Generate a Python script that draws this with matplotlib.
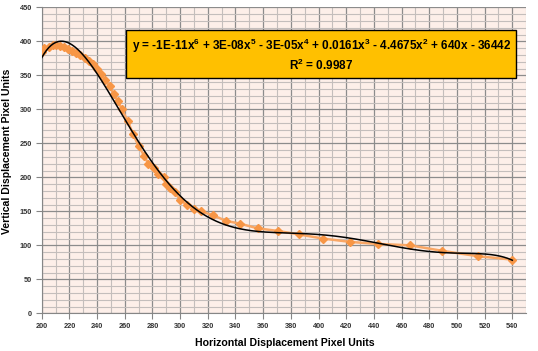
import numpy as np
import matplotlib.pyplot as plt
from matplotlib.ticker import MultipleLocator

x_px = [200, 202, 205, 208, 210, 213, 216, 219, 222, 225, 228, 231, 234, 237,
        240, 243, 246, 249, 252, 255, 258, 262, 266, 270, 274, 277, 281, 284,
        288, 290, 293, 296, 300, 305, 310, 315, 324, 333, 343, 356, 371, 386,
        403, 423, 443, 466, 489, 515, 540]
y_px = [385, 390, 392, 394, 395, 393, 391, 389, 386, 383, 380, 376, 371, 366,
        360, 352, 343, 334, 323, 312, 300, 283, 264, 246, 232, 220, 213, 205,
        200, 190, 184, 178, 167, 159, 154, 150, 144, 136, 132, 125, 121, 116,
        110, 105, 102, 100, 92, 84, 79]

eq_text = (r"y = -1E-11x$^{6}$ + 3E-08x$^{5}$ - 3E-05x$^{4}$ + 0.0161x$^{3}$"
           r" - 4.4675x$^{2}$ + 640x - 36442")
r2_text = r"R$^{2}$ = 0.9987"

plt.rcParams['font.family'] = ['Liberation Sans', 'DejaVu Sans']
plt.rcParams['mathtext.fontset'] = 'custom'
plt.rcParams['mathtext.rm'] = 'Liberation Sans:bold'
plt.rcParams['mathtext.it'] = 'Liberation Sans:bold'
plt.rcParams['mathtext.bf'] = 'Liberation Sans:bold'

fig = plt.figure(figsize=(5.38, 3.51), dpi=100)
ax = fig.add_axes([0.0775, 0.1074, 0.9005, 0.8716])
ax.set_facecolor('#fdefe9')

# 6th order trendline like the spreadsheet one
poly = np.polynomial.Polynomial.fit(x_px, y_px, 6)
xs = np.linspace(200, 540, 400)

ax.plot(x_px, y_px, '-', color='#f9a766', lw=1.8, zorder=3)
ax.plot(x_px, y_px, 'D', color='#f79646', ms=4.2, mec='#f79646', zorder=4)
ax.plot(xs, poly(xs), color='black', lw=1.1, zorder=5)

ax.set_xlim(200, 550)
ax.set_ylim(0, 450)
ax.xaxis.set_major_locator(MultipleLocator(20))
ax.xaxis.set_minor_locator(MultipleLocator(10))
ax.yaxis.set_major_locator(MultipleLocator(50))
ax.yaxis.set_minor_locator(MultipleLocator(10))
ax.grid(which='major', color='#8c8c8c', lw=0.9, zorder=0)
ax.grid(which='minor', color='#c4bebc', lw=0.8, zorder=0)
ax.set_axisbelow(True)

for s in ['top', 'right']:
    ax.spines[s].set_visible(False)
for s in ['left', 'bottom']:
    ax.spines[s].set_color('#868686')
ax.tick_params(which='major', length=4, color='#868686', labelsize=5.3,
               labelcolor='#333333', pad=3)
ax.tick_params(which='minor', length=0)
for lab in ax.get_xticklabels() + ax.get_yticklabels():
    lab.set_fontweight('bold')

ax.set_xlabel('Horizontal Displacement Pixel Units', fontsize=7.6,
              fontweight='bold')
ax.set_ylabel('Vertical Displacement Pixel Units', fontsize=7.6,
              fontweight='bold')
ax.xaxis.set_label_coords(0.502, -0.081)
ax.yaxis.set_label_coords(-0.061, 0.53)

ax.text(0.577, 0.845, eq_text + "\n" + r2_text, transform=ax.transAxes,
        ha='center', va='center', fontsize=8.5, fontweight='bold',
        multialignment='center', zorder=6,
        bbox=dict(boxstyle='square,pad=0.45', fc='#ffc000', ec='black', lw=1))

fig.savefig('out.png', dpi=100)
